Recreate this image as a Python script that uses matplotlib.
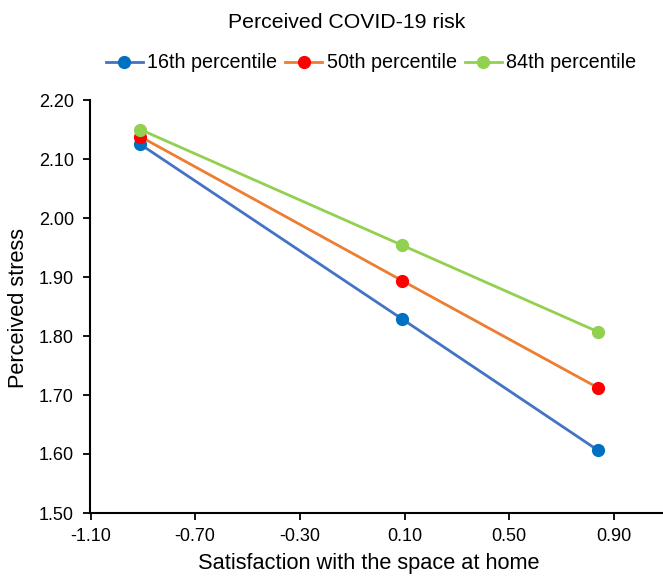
import matplotlib
matplotlib.use("Agg")
import matplotlib.pyplot as plt

plt.rcParams['font.family'] = ['Liberation Sans', 'DejaVu Sans']

# data
x_vals = [-0.91, 0.09, 0.84]
p16 = [2.125, 1.829, 1.606]
p50 = [2.138, 1.894, 1.712]
p84 = [2.150, 1.954, 1.807]
labels = ["16th percentile", "50th percentile", "84th percentile"]
x_ticks = [-1.10, -0.70, -0.30, 0.10, 0.50, 0.90]
y_ticks = [1.50, 1.60, 1.70, 1.80, 1.90, 2.00, 2.10, 2.20]

line_colors = ["#4472C4", "#ED7D31", "#92D050"]
marker_colors = ["#0070C0", "#FF0000", "#92D050"]

W, H = 663, 577
fig = plt.figure(figsize=(W / 100, H / 100), dpi=100)
ax = fig.add_axes([90.5 / W, 64 / H, 2.2 * 261.7 / W, 413 / H])

for ys, lab, lc, mc in zip([p16, p50, p84], labels, line_colors, marker_colors):
    ax.plot(x_vals, ys, color=lc, lw=2, marker='o', ms=8.5,
            markerfacecolor=mc, markeredgecolor=mc, label=lab, clip_on=False)

ax.set_xlim(-1.10, 1.10)
ax.set_ylim(1.50, 2.20)
ax.set_xticks(x_ticks)
ax.set_xticklabels([f"{v:.2f}" for v in x_ticks])
ax.set_yticks(y_ticks)
ax.set_yticklabels([f"{v:.2f}" for v in y_ticks])
ax.tick_params(labelsize=13, direction='out', length=5, width=1.3, colors='black')
ax.tick_params(axis='y', pad=7)
ax.tick_params(axis='x', pad=6)
for s in ['top', 'right']:
    ax.spines[s].set_visible(False)
for s in ['left', 'bottom']:
    ax.spines[s].set_linewidth(1.5)

ax.set_xlabel("Satisfaction with the space at home", fontsize=15.7)
ax.set_ylabel("Perceived stress", fontsize=15.7)
ax.xaxis.label.set_va('center')
ax.yaxis.label.set_va('center')
ax.xaxis.set_label_coords(369 / W, 1 - 564 / H, transform=fig.transFigure)
ax.yaxis.set_label_coords(19 / W, 1 - 307.5 / H, transform=fig.transFigure)

fig.text(347 / W, 1 - 22 / H, "Perceived COVID-19 risk", ha='center', va='center', fontsize=15.3)
ax.legend(loc='center', bbox_to_anchor=(371 / W, 1 - 63 / H), bbox_transform=fig.transFigure,
          ncol=3, frameon=False, fontsize=14.2, handlelength=1.88, handletextpad=0.22,
          columnspacing=0.4, borderpad=0, borderaxespad=0)

fig.savefig("out.png", dpi=100)
